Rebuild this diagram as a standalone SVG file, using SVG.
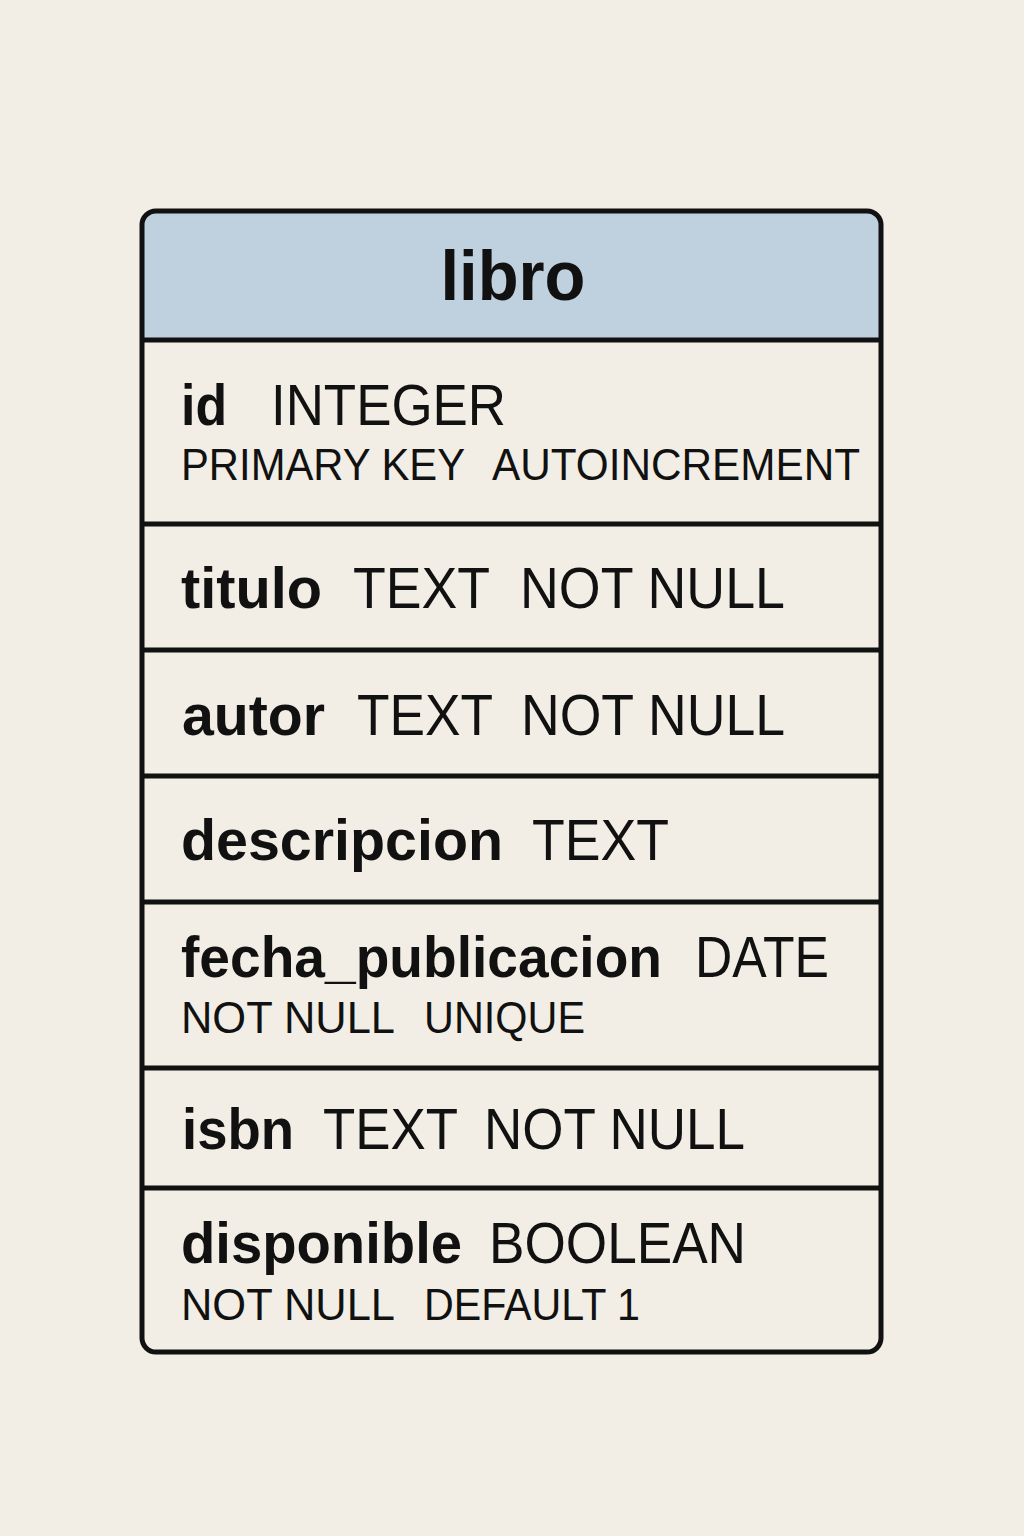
<svg xmlns="http://www.w3.org/2000/svg" width="1024" height="1536" viewBox="0 0 1024 1536">
  <style>
    .bg { fill: #F2EEE5; }
    .box { fill: none; stroke: #111111; stroke-width: 5; }
    .sep { stroke: #111111; stroke-width: 5; }
    .head { fill: #BFD1DF; }
    .title { font-family: "Liberation Sans", Arial, sans-serif; font-weight: bold; font-size: 70px; fill: #111111; }
    .name { font-family: "Liberation Sans", Arial, sans-serif; font-weight: bold; font-size: 57px; fill: #111111; }
    .type { font-family: "Liberation Sans", Arial, sans-serif; font-size: 57px; fill: #111111; }
    .cons { font-family: "Liberation Sans", Arial, sans-serif; font-size: 44px; fill: #111111; }
  </style>

  <rect class="bg" x="0" y="0" width="1024" height="1536"/>

  <g id="table-libro">
    <!-- table body -->
    <rect x="142" y="211" width="739" height="1141" rx="14" fill="#F2EEE5"/>
    <!-- header band with rounded top corners -->
    <path class="head" d="M142 340 V225 A14 14 0 0 1 156 211 H867 A14 14 0 0 1 881 225 V340 Z"/>
    <text class="title" x="513" y="300" text-anchor="middle" textLength="145" lengthAdjust="spacingAndGlyphs">libro</text>

    <!-- row separators -->
    <g id="separators">
      <line class="sep" x1="142" y1="340" x2="881" y2="340"/>
      <line class="sep" x1="142" y1="524" x2="881" y2="524"/>
      <line class="sep" x1="142" y1="650" x2="881" y2="650"/>
      <line class="sep" x1="142" y1="776" x2="881" y2="776"/>
      <line class="sep" x1="142" y1="902" x2="881" y2="902"/>
      <line class="sep" x1="142" y1="1068" x2="881" y2="1068"/>
      <line class="sep" x1="142" y1="1188" x2="881" y2="1188"/>
    </g>

    <!-- outer border -->
    <rect class="box" x="142" y="211" width="739" height="1141" rx="14"/>
  </g>

  <g id="col-id">
    <text class="name" x="181" y="425" textLength="46" lengthAdjust="spacingAndGlyphs">id</text>
    <text class="type" x="271" y="425" textLength="235" lengthAdjust="spacingAndGlyphs">INTEGER</text>
    <text class="cons" x="181" y="480" textLength="284" lengthAdjust="spacingAndGlyphs">PRIMARY KEY</text>
    <text class="cons" x="492" y="480" textLength="368" lengthAdjust="spacingAndGlyphs">AUTOINCREMENT</text>
  </g>

  <g id="col-titulo">
    <text class="name" x="181" y="608" textLength="141" lengthAdjust="spacingAndGlyphs">titulo</text>
    <text class="type" x="353" y="608" textLength="137" lengthAdjust="spacingAndGlyphs">TEXT</text>
    <text class="type" x="520" y="608" textLength="265" lengthAdjust="spacingAndGlyphs">NOT NULL</text>
  </g>

  <g id="col-autor">
    <text class="name" x="182" y="735" textLength="143" lengthAdjust="spacingAndGlyphs">autor</text>
    <text class="type" x="357" y="735" textLength="136" lengthAdjust="spacingAndGlyphs">TEXT</text>
    <text class="type" x="521" y="735" textLength="264" lengthAdjust="spacingAndGlyphs">NOT NULL</text>
  </g>

  <g id="col-descripcion">
    <text class="name" x="181" y="860" textLength="322" lengthAdjust="spacingAndGlyphs">descripcion</text>
    <text class="type" x="532" y="860" textLength="137" lengthAdjust="spacingAndGlyphs">TEXT</text>
  </g>

  <g id="col-fecha_publicacion">
    <text class="name" x="181" y="977" textLength="481" lengthAdjust="spacingAndGlyphs">fecha_publicacion</text>
    <text class="type" x="695" y="977" textLength="134" lengthAdjust="spacingAndGlyphs">DATE</text>
    <text class="cons" x="181" y="1033" textLength="214" lengthAdjust="spacingAndGlyphs">NOT NULL</text>
    <text class="cons" x="424" y="1033" textLength="161" lengthAdjust="spacingAndGlyphs">UNIQUE</text>
  </g>

  <g id="col-isbn">
    <text class="name" x="182" y="1149" textLength="112" lengthAdjust="spacingAndGlyphs">isbn</text>
    <text class="type" x="323" y="1149" textLength="135" lengthAdjust="spacingAndGlyphs">TEXT</text>
    <text class="type" x="484" y="1149" textLength="261" lengthAdjust="spacingAndGlyphs">NOT NULL</text>
  </g>

  <g id="col-disponible">
    <text class="name" x="181" y="1263" textLength="281" lengthAdjust="spacingAndGlyphs">disponible</text>
    <text class="type" x="489" y="1263" textLength="257" lengthAdjust="spacingAndGlyphs">BOOLEAN</text>
    <text class="cons" x="181" y="1320" textLength="214" lengthAdjust="spacingAndGlyphs">NOT NULL</text>
    <text class="cons" x="424" y="1320" textLength="216" lengthAdjust="spacingAndGlyphs">DEFAULT 1</text>
  </g>
</svg>
